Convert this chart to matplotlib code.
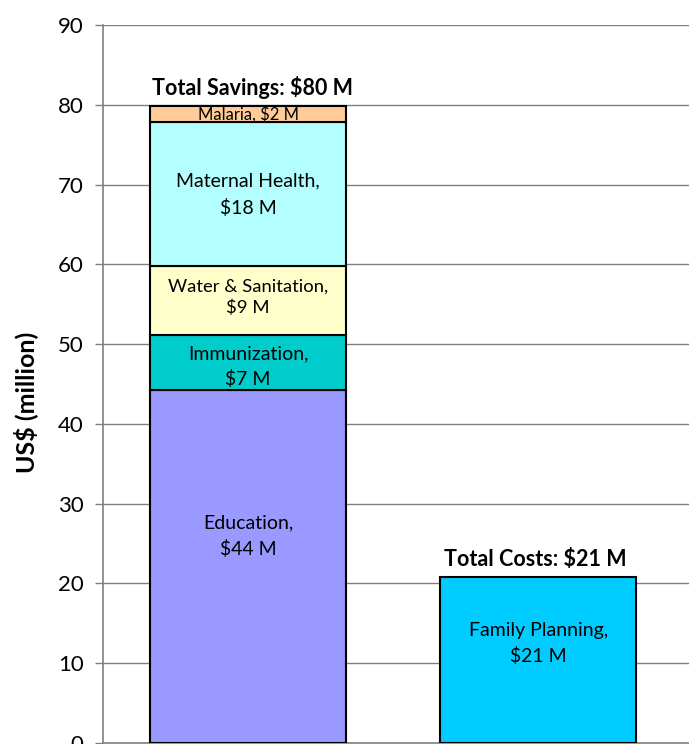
import matplotlib
matplotlib.use("Agg")
import matplotlib.pyplot as plt

plt.rcParams['font.family'] = ['Lato', 'DejaVu Sans']

categories = ["Savings", "Costs"]
savings_labels = ["Education,\n$44 M", "Immunization,\n$7 M", "Water & Sanitation,\n$9 M",
                  "Maternal Health,\n$18 M", "Malaria, $2 M"]
savings_values = [44.2, 7.0, 8.6, 18.1, 1.9]
savings_colors = ["#9999FF", "#00CCCC", "#FFFFCC", "#B3FFFF", "#FFCC99"]
cost_labels = ["Family Planning,\n$21 M"]
cost_values = [20.8]
cost_colors = ["#00CCFF"]
totals = ["Total Savings: $80 M", "Total Costs: $21 M"]
yticks = [0, 10, 20, 30, 40, 50, 60, 70, 80, 90]

# label vertical offsets in points, font sizes and line spacings (style only)
sav_offsets = [22, -3, 2, -1, 0]
sav_fs = [14, 14, 13.3, 14, 12]
sav_ls = [1.6, 1.45, 1.35, 1.65, 1.2]
cost_offsets = [12]

fig = plt.figure(figsize=(6.89, 7.44), dpi=100)
ax = fig.add_axes([103/689, 1/744, 586/689, 718/744])

x = [0, 1]
width = 0.674
bottom = 0
for lab, v, c, off, fs, ls in zip(savings_labels, savings_values, savings_colors,
                                  sav_offsets, sav_fs, sav_ls):
    ax.bar(x[0], v, width, bottom=bottom, color=c, edgecolor="black", linewidth=1.5, zorder=3)
    ax.annotate(lab, (x[0], bottom + v / 2), xytext=(0, off), textcoords="offset points",
                ha="center", va="center", fontsize=fs, linespacing=ls, zorder=4)
    bottom += v
sav_total = bottom
bottom = 0
for lab, v, c, off in zip(cost_labels, cost_values, cost_colors, cost_offsets):
    ax.bar(x[1], v, width, bottom=bottom, color=c, edgecolor="black", linewidth=1.5, zorder=3)
    ax.annotate(lab, (x[1], bottom + v / 2), xytext=(0, off), textcoords="offset points",
                ha="center", va="center", fontsize=14, linespacing=1.55, zorder=4)
    bottom += v
cost_total = bottom

ax.annotate(totals[0], (x[0], sav_total), xytext=(3, 5), textcoords="offset points",
            ha="center", va="bottom", fontsize=15.5, fontweight="bold")
ax.annotate(totals[1], (x[1], cost_total), xytext=(-2, 5), textcoords="offset points",
            ha="center", va="bottom", fontsize=15.5, fontweight="bold")

ax.set_xlim(-0.5, 1.52)
ax.set_ylim(0, 90)
ax.set_yticks(yticks)
ax.set_yticklabels([str(t) for t in yticks], fontsize=16)
ax.set_xticks([0.5])
ax.set_xticklabels([""])
ax.tick_params(axis="y", length=6, width=1, color="#808080", pad=8)
ax.tick_params(axis="x", length=5, width=1, color="#808080")
ax.yaxis.grid(True, color="#808080", linewidth=1, zorder=0)
ax.set_axisbelow(True)
for s in ["top", "right"]:
    ax.spines[s].set_visible(False)
for s in ["left", "bottom"]:
    ax.spines[s].set_color("#808080")
    ax.spines[s].set_linewidth(1.2)
ax.set_ylabel("US$ (million)", fontsize=18, fontweight="bold")
ax.yaxis.set_label_coords((38 - 103) / 586, 0.475)

fig.savefig("out.png", dpi=100)
